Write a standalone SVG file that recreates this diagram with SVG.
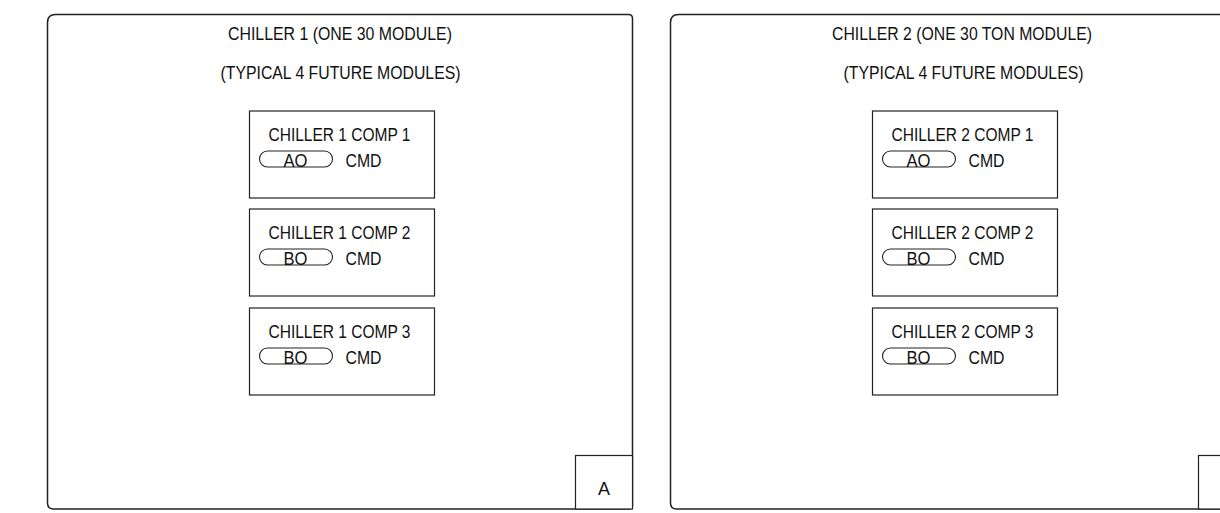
<svg xmlns="http://www.w3.org/2000/svg" width="1220" height="513" viewBox="0 0 1220 513">
<style>
.frame{fill:none;stroke:#222;stroke-width:1.5}
.box{fill:#fff;stroke:#222;stroke-width:1.2}
.ov{fill:none;stroke:#222;stroke-width:1.1}
text{font-family:"Liberation Sans",Arial,sans-serif;font-size:18px;fill:#111}
.c{text-anchor:middle}
</style>
<rect width="1220" height="513" fill="#fff"/>
<defs>
<g id="comp">
<rect class="box" x="0" y="0" width="185" height="87"/>
<rect class="ov" x="10" y="40" width="73" height="16" rx="8" ry="8"/>
</g>
</defs>
<g id="chiller1">
<path class="frame" d="M55.5,14.5 H628.5 Q632.5,14.5 632.5,18.5 V506 Q632.5,509 629.5,509 H53.5 Q47.5,509 47.5,503 V22.5 Q47.5,14.5 55.5,14.5 Z"/>
<text class="c" x="340" y="40" textLength="224" lengthAdjust="spacingAndGlyphs">CHILLER 1 (ONE 30 MODULE)</text>
<text class="c" x="340.5" y="79" textLength="240" lengthAdjust="spacingAndGlyphs">(TYPICAL 4 FUTURE MODULES)</text>
</g>
<g id="c1comp1" transform="translate(249.5,111)">
<use href="#comp"/>
<text class="c" x="90" y="30" textLength="142" lengthAdjust="spacingAndGlyphs">CHILLER 1 COMP 1</text>
<text class="c" x="46" y="56" textLength="24" lengthAdjust="spacingAndGlyphs">AO</text>
<text x="96" y="56" textLength="36" lengthAdjust="spacingAndGlyphs">CMD</text>
</g>
<g id="c1comp2" transform="translate(249.5,209)">
<use href="#comp"/>
<text class="c" x="90" y="30" textLength="142" lengthAdjust="spacingAndGlyphs">CHILLER 1 COMP 2</text>
<text class="c" x="46" y="56" textLength="24" lengthAdjust="spacingAndGlyphs">BO</text>
<text x="96" y="56" textLength="36" lengthAdjust="spacingAndGlyphs">CMD</text>
</g>
<g id="c1comp3" transform="translate(249.5,308)">
<use href="#comp"/>
<text class="c" x="90" y="30" textLength="142" lengthAdjust="spacingAndGlyphs">CHILLER 1 COMP 3</text>
<text class="c" x="46" y="56" textLength="24" lengthAdjust="spacingAndGlyphs">BO</text>
<text x="96" y="56" textLength="36" lengthAdjust="spacingAndGlyphs">CMD</text>
</g>
<g id="tagA1">
<rect class="box" x="575.5" y="455.5" width="57" height="53.5"/>
<text class="c" x="604" y="495">A</text>
</g>
<g id="chiller2">
<path class="frame" d="M678.5,14.5 H1240 M1240,509 H676.5 Q670.5,509 670.5,503 V22.5 Q670.5,14.5 678.5,14.5"/>
<text class="c" x="962" y="40" textLength="260" lengthAdjust="spacingAndGlyphs">CHILLER 2 (ONE 30 TON MODULE)</text>
<text class="c" x="963.5" y="79" textLength="240" lengthAdjust="spacingAndGlyphs">(TYPICAL 4 FUTURE MODULES)</text>
</g>
<g id="c2comp1" transform="translate(872.5,111)">
<use href="#comp"/>
<text class="c" x="90" y="30" textLength="142" lengthAdjust="spacingAndGlyphs">CHILLER 2 COMP 1</text>
<text class="c" x="46" y="56" textLength="24" lengthAdjust="spacingAndGlyphs">AO</text>
<text x="96" y="56" textLength="36" lengthAdjust="spacingAndGlyphs">CMD</text>
</g>
<g id="c2comp2" transform="translate(872.5,209)">
<use href="#comp"/>
<text class="c" x="90" y="30" textLength="142" lengthAdjust="spacingAndGlyphs">CHILLER 2 COMP 2</text>
<text class="c" x="46" y="56" textLength="24" lengthAdjust="spacingAndGlyphs">BO</text>
<text x="96" y="56" textLength="36" lengthAdjust="spacingAndGlyphs">CMD</text>
</g>
<g id="c2comp3" transform="translate(872.5,308)">
<use href="#comp"/>
<text class="c" x="90" y="30" textLength="142" lengthAdjust="spacingAndGlyphs">CHILLER 2 COMP 3</text>
<text class="c" x="46" y="56" textLength="24" lengthAdjust="spacingAndGlyphs">BO</text>
<text x="96" y="56" textLength="36" lengthAdjust="spacingAndGlyphs">CMD</text>
</g>
<g id="tagA2">
<rect class="box" x="1198.5" y="455.5" width="57" height="53.5"/>
</g>
<g id="connectors"></g>
</svg>
